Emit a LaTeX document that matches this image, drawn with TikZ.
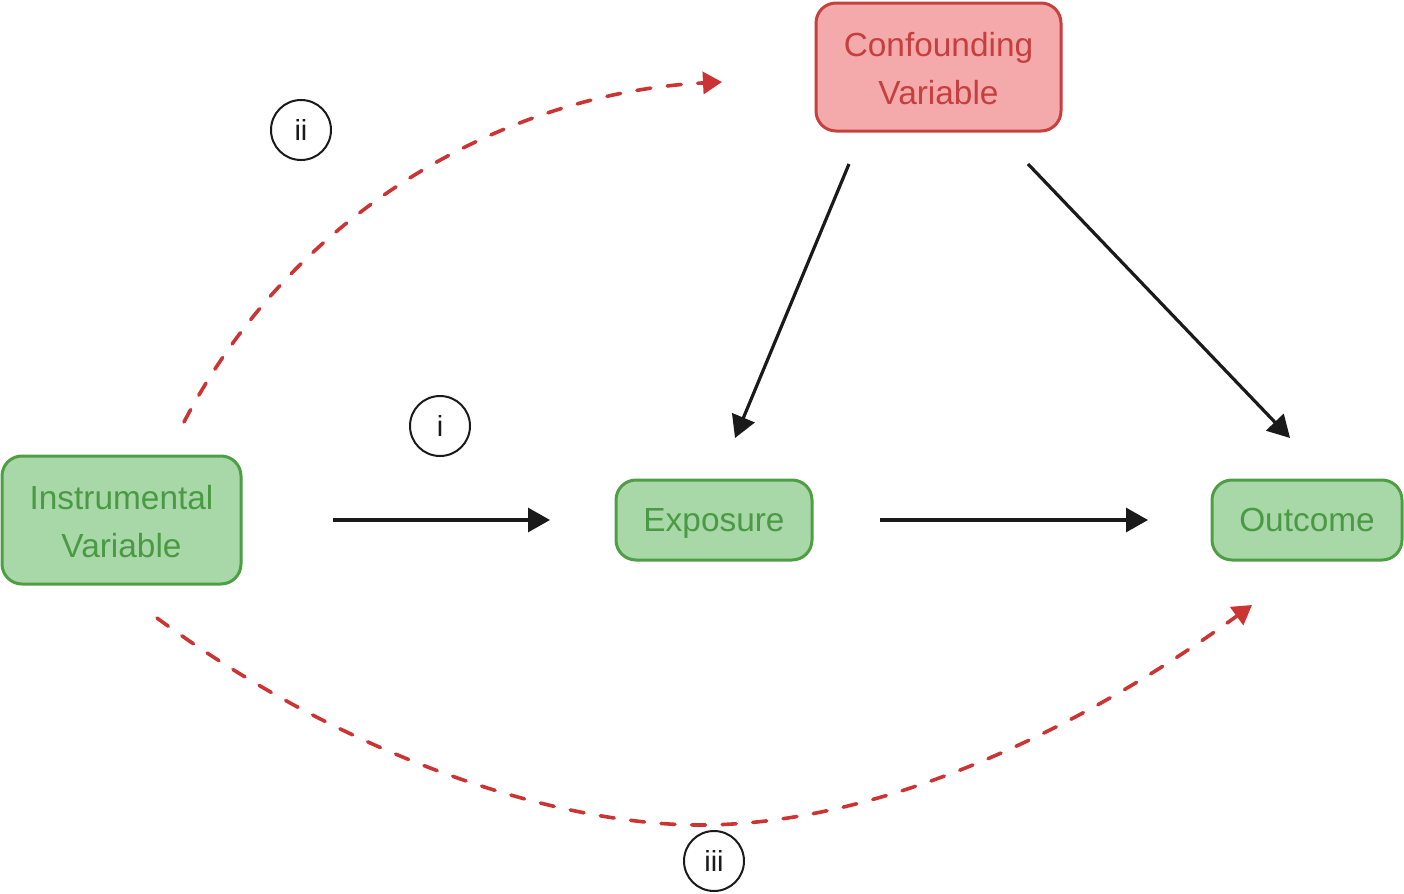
\documentclass[tikz,border=0pt]{standalone}
\usepackage{fontspec}
\setmainfont{Liberation Sans}
\usetikzlibrary{arrows.meta}
\definecolor{gfill}{HTML}{A8D8A8}
\definecolor{gdraw}{HTML}{4E9E46}
\definecolor{gtext}{HTML}{4A9A44}
\definecolor{rfill}{HTML}{F4AAAA}
\definecolor{rdraw}{HTML}{C6403F}
\definecolor{rtext}{HTML}{C63E3E}
\definecolor{rdash}{HTML}{CC3333}
\definecolor{ink}{HTML}{1A1A1A}
\tikzset{
  gbox/.style={draw=gdraw, fill=gfill, text=gtext, line width=1.5pt, rounded corners=10pt,
    inner sep=0pt, align=center, font=\fontsize{16.7}{24}\selectfont},
  rbox/.style={draw=rdraw, fill=rfill, text=rtext, line width=1.5pt, rounded corners=10pt,
    inner sep=0pt, align=center, font=\fontsize{16.7}{24}\selectfont},
  solidarrow/.style={draw=ink, line width=1.6pt, -{Triangle[length=11pt,width=12pt]}},
  dasharrow/.style={draw=rdash, line width=1.8pt, line cap=round, dash pattern=on 7pt off 8.3pt,
    -{Triangle[length=9.5pt,width=11pt,line cap=butt]}},
  lbl/.style={circle, draw=ink, line width=1pt, minimum size=30pt, inner sep=0pt,
    font=\fontsize{14.5}{16}\selectfont, text=ink}
}
\begin{document}
\begin{tikzpicture}[x=0.5pt,y=-0.5pt]
\useasboundingbox (0,0) rectangle (1404,894);
\node[gbox, minimum width=119.5pt, minimum height=64pt] (iv) at (121.5,520) {\rule{0pt}{13.4pt}Instrumental\\Variable};
\node[rbox, minimum width=122.5pt, minimum height=64pt] (cv) at (938.5,67) {\rule{0pt}{13.6pt}Confounding\\Variable};
\node[gbox, minimum width=98pt, minimum height=40pt, text depth=0pt] (ex) at (714,520) {Exposure};
\node[gbox, minimum width=95pt, minimum height=40pt, text depth=0pt] (oc) at (1307,520) {Outcome};

\coordinate (a1) at (333,520); \coordinate (a2) at (550,520);
\coordinate (b1) at (880,520); \coordinate (b2) at (1148,520);
\coordinate (c1) at (849,164); \coordinate (c2) at (735,438);
\coordinate (d1) at (1028,164); \coordinate (d2) at (1290,438);
\coordinate (e1) at (184,422); \coordinate (e2) at (722,82);
\coordinate (f1) at (157,618); \coordinate (f2) at (1252,605);
\coordinate (fm) at (700,825);

\draw[solidarrow] (a1) -- (a2);
\draw[solidarrow] (b1) -- (b2);
\draw[solidarrow] (c1) -- (c2);
\draw[solidarrow] (d1) -- (d2);
\draw[dasharrow] (e1) .. controls (300,200) and (520,92) .. (e2);
\draw[dasharrow] (f1) .. controls (350,760) and (560,825) .. (fm)
  .. controls (880,825) and (1080,730) .. (f2);

\node[lbl] (l2) at (301,130) {ii};
\node[lbl] (l1) at (440,426) {i};
\node[lbl] (l3) at (714,861) {iii};
\end{tikzpicture}
\end{document}
